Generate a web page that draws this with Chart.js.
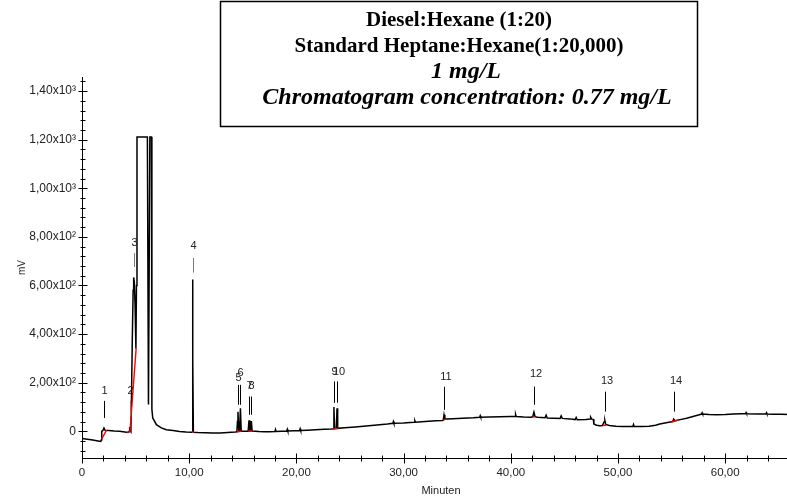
<!DOCTYPE html>
<html><head><meta charset="utf-8">
<script src="https://cdn.jsdelivr.net/npm/chart.js@4.4.0/dist/chart.umd.min.js"></script>
<style>html,body{margin:0;padding:0;background:#fff;overflow:hidden;width:787px;height:501px}#wrap{position:absolute;left:0;top:0;width:800px;height:501px}</style>
</head><body><div id="wrap"><canvas id="c" width="800" height="501"></canvas></div>
<script>
const titleLines = ["Diesel:Hexane (1:20)", "Standard Heptane:Hexane(1:20,000)", "1 mg/L", "Chromatogram concentration: 0.77 mg/L"];
const xTitle = "Minuten";
const yTitle = "mV";
const xTickValues = [0, 10, 20, 30, 40, 50, 60];
const xTickLabels = ["0", "10,00", "20,00", "30,00", "40,00", "50,00", "60,00"];
const yTickValues = [0, 200, 400, 600, 800, 1000, 1200, 1400];
const yTickLabels = ["0", "2,00x10²", "4,00x10²", "6,00x10²", "8,00x10²", "1,00x10³", "1,20x10³", "1,40x10³"];

// chromatogram trace: [minutes, mV]
const trace = [
 [0,-30],[0.5,-33],[1.0,-36],[1.5,-40],[1.75,-42],[1.8,-36],[1.84,0],[1.95,3],[2.05,13],[2.15,4],[2.5,3],[3.0,1],[3.5,0],[4.0,-3],[4.3,-5],[4.4,0],[4.45,18],[4.5,2],[4.56,-2],
 [4.62,150],[4.7,400],[4.77,580],[4.82,633],[4.88,615],[4.95,520],[5.03,340],[5.08,600],[5.13,1211],[6.1,1211],[6.2,110],[6.33,1211],[6.48,1211],[6.52,90],[6.6,55],[6.94,27],[7.4,14],[7.87,6],[8.5,3],[9.1,-1],[9.7,-3],[10.25,-4],
 [10.29,-4],[10.31,300],[10.33,625],[10.35,300],[10.39,-4],[10.8,-5],[11.5,-6],[12.2,-7],[12.9,-7],[13.6,-5],[14.3,-3],[14.45,-2],[14.5,40],[14.55,80],[14.62,0],[14.7,1],[14.78,95],[14.85,0],[15.2,0],[15.5,0],[15.58,45],[15.65,1],[15.72,1],[15.8,42],[15.87,1],
 [16.5,-1],[17.0,-2],[17.5,-2],[18.0,-1],[18.05,7],[18.1,-1],[18.6,0],[19.1,1],[19.15,8],[19.2,1],[19.8,2],[20.3,3],[20.35,10],[20.4,3],[21.0,4],[21.8,6],[22.6,8],[23.3,9],[23.45,10],[23.5,100],[23.56,11],[23.72,11],[23.79,95],[23.85,12],
 [24.5,14],[25.5,18],[26.5,22],[27.5,26],[28.5,30],[29.0,33],[29.05,40],[29.1,33],[30.0,34],[30.6,36],[31.0,37],[31.05,43],[31.1,37],[32.0,40],[33.0,43],[33.6,44],[33.7,45],[33.77,68],[33.85,50],[34.0,51],[34.6,52],[35.5,54],[36.5,56],[37.1,58],[37.15,64],[37.2,58],
 [38.0,59],[39.0,60],[40.0,61],[40.4,61],[40.45,69],[40.5,61],[41.2,59],[41.9,58],[42.05,60],[42.16,79],[42.26,60],[42.5,58],[43.2,56],[43.3,66],[43.4,55],[44.0,54],[44.6,53],[44.7,63],[44.8,53],[45.5,51],[46.0,48],[46.1,57],[46.2,47],[47.0,48],[47.4,50],[47.45,58],[47.55,50],[47.7,49],
 [47.75,30],[48.0,25],[48.3,23],[48.55,24],[48.7,38],[48.78,44],[48.86,28],[49.2,24],[49.8,21],[50.4,20],[51.0,20],[51.4,21],[51.45,28],[51.5,21],[52.2,20],[52.9,21],[53.5,25],[53.9,30],[54.5,35],[55.1,40],[55.2,50],[55.3,43],[55.8,48],[56.4,54],[57.0,61],[57.5,67],[57.8,71],[57.85,76],[57.9,71],
 [58.5,69],[59.2,68],[60.0,69],[60.8,71],[61.5,72],[61.9,72],[61.95,77],[62.0,72],[63.0,71],[63.8,72],[63.85,76],[63.9,71],[64.5,70],[65.2,70],[66.0,69],[67,69]
];

// integration baselines (red): [t1, mV1, t2, mV2]
const integrationSegments = [
 [1.83,-32,2.29,5],[4.2,-4,4.47,-3],[4.47,-3,5.05,340],[10.26,-4,10.45,-4],[14.45,-2,14.88,0],[15.52,0,15.9,1],
 [23.4,9,23.9,12],[33.68,45,33.9,50],[42.05,60,42.25,60],[48.6,24,48.9,26],[54.9,37,55.6,46]
];

const peakIds = ["1","2","3","4","5","6","7","8","9","10","11","12","13","14"];
const peakTimes = [2.05,4.45,4.82,10.33,14.55,14.78,15.58,15.8,23.5,23.79,33.77,42.16,48.78,55.2];
const peakLabelMV = [166,166,776,762,220,240,187,187,246,246,224,236,207,207];
const markerTopMV = [125,125,733,713,191,191,143,143,205,205,183,184,163,163];
const markerBottomMV = [55,62,676,653,109,109,68,68,117,117,88,109,81,81];
const markerGray = [false,true,true,true,false,false,false,false,false,false,false,false,false,false];

const X_MIN = 0, X_MAX = 66.98, Y_MIN = -110, Y_MAX = 1458;

const redData = [];
integrationSegments.forEach(s => { redData.push({x:s[0], y:s[1]}, {x:s[2], y:s[3]}, {x:s[2], y:null}); });

const axesPlugin = {
  id: 'axesPlugin',
  afterDatasetsDraw(chart) {
    const {ctx, chartArea: a, scales: {x, y}} = chart;
    ctx.save();
    ctx.strokeStyle = '#000';
    ctx.lineWidth = 1;
    const lx = Math.round(a.left) + 0.5, by = Math.round(a.bottom) + 0.5;
    ctx.beginPath();
    ctx.moveTo(lx, a.top); ctx.lineTo(lx, by); ctx.lineTo(a.right, by);
    for (let v = -80; v <= Y_MAX; v += 40) {
      const py = Math.round(y.getPixelForValue(v)) + 0.5;
      const major = v % 200 === 0;
      const L = major ? 4 : 2;
      ctx.moveTo(lx - L, py); ctx.lineTo(lx + L + 1, py);
    }
    for (let v = 0; v <= X_MAX; v += 2) {
      const px = Math.round(x.getPixelForValue(v)) + 0.5;
      const major = v % 10 === 0;
      const L = major ? 4 : 2;
      ctx.moveTo(px, by - L - 1); ctx.lineTo(px, by + L + 1);
    }
    ctx.stroke();

    // peak markers and labels
    ctx.font = '11px "Liberation Sans", Arial, sans-serif';
    ctx.textAlign = 'center';
    ctx.textBaseline = 'middle';
    for (let i = 0; i < peakIds.length; i++) {
      const px = Math.round(x.getPixelForValue(peakTimes[i])) + 0.5;
      ctx.strokeStyle = markerGray[i] ? '#777' : '#000';
      ctx.beginPath();
      ctx.moveTo(px, y.getPixelForValue(markerTopMV[i]));
      ctx.lineTo(px, y.getPixelForValue(markerBottomMV[i]));
      ctx.stroke();
      ctx.fillStyle = '#222';
      const off = peakIds[i].length > 1 ? 1.5 : 0;
      ctx.fillText(peakIds[i], px + off, y.getPixelForValue(peakLabelMV[i]));
    }
    ctx.restore();
  },
  afterDraw(chart) {
    const ctx = chart.ctx;
    ctx.save();
    ctx.strokeStyle = '#000';
    ctx.lineWidth = 1.5;
    ctx.strokeRect(220.5, 1.5, 477, 125);
    ctx.fillStyle = '#000';
    ctx.textAlign = 'center';
    ctx.textBaseline = 'middle';
    ctx.font = 'bold 21px "Liberation Serif", "Times New Roman", serif';
    ctx.fillText(titleLines[0], 459, 21);
    ctx.fillText(titleLines[1], 459, 46.5);
    ctx.font = 'italic bold 24px "Liberation Serif", "Times New Roman", serif';
    ctx.fillText(titleLines[2], 466, 72);
    ctx.fillText(titleLines[3], 467, 97.5);
    ctx.restore();
  }
};

new Chart(document.getElementById('c'), {
  type: 'line',
  data: {
    datasets: [
      { data: redData, borderColor: '#ff0000', borderWidth: 1.4, pointRadius: 0, tension: 0, spanGaps: false, order: 0 },
      { data: trace.map(p => ({x: p[0], y: p[1]})), borderColor: '#000', borderWidth: 1.5, pointRadius: 0, tension: 0, order: 1 }
    ]
  },
  options: {
    responsive: false,
    animation: false,
    devicePixelRatio: 1,
    layout: { padding: { top: 77, left: 0, right: 0, bottom: 0 } },
    plugins: { legend: { display: false }, tooltip: { enabled: false } },
    scales: {
      x: {
        type: 'linear', min: X_MIN, max: X_MAX,
        grid: { display: false, drawTicks: false },
        border: { display: false },
        afterBuildTicks: s => { s.ticks = xTickValues.map(v => ({value: v})); },
        afterFit: s => { s.height = 43; },
        ticks: { autoSkip: false, maxRotation: 0, padding: 8, color: '#222',
          font: { family: '"Liberation Sans", Arial, sans-serif', size: 11.5 },
          callback: (v, i) => xTickLabels[i] },
        title: { display: true, text: xTitle, color: '#222', padding: { top: 0, bottom: 3 },
          font: { family: '"Liberation Sans", Arial, sans-serif', size: 11 } }
      },
      y: {
        type: 'linear', min: Y_MIN, max: Y_MAX,
        grid: { display: false, drawTicks: false },
        border: { display: false },
        afterBuildTicks: s => { s.ticks = yTickValues.map(v => ({value: v})); },
        afterFit: s => { s.width = 82; },
        ticks: { autoSkip: false, padding: 6, color: '#222',
          font: { family: '"Liberation Sans", Arial, sans-serif', size: 12 },
          callback: (v, i) => yTickLabels[i] },
        title: { display: true, text: yTitle, color: '#222', padding: { top: 16, bottom: 0 },
          font: { family: '"Liberation Sans", Arial, sans-serif', size: 10 } }
      }
    }
  },
  plugins: [axesPlugin]
});
</script>
</body></html>
